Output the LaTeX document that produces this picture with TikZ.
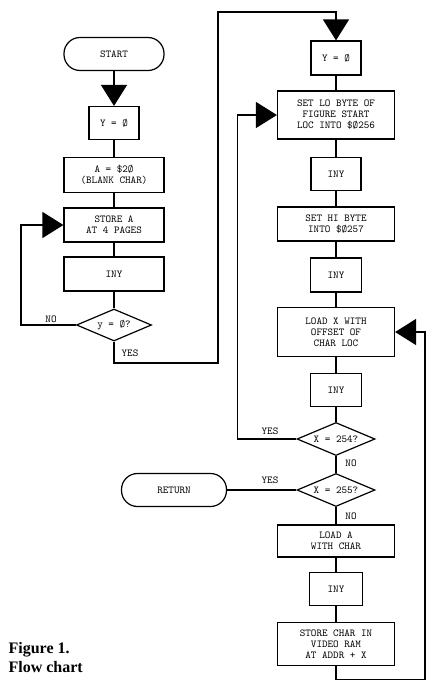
\documentclass[tikz,border=0pt]{standalone}
\usepackage{fontspec}
\setmainfont{Liberation Serif}
\usetikzlibrary{shapes.geometric,arrows.meta}

\begin{document}
\begin{tikzpicture}[x=1pt, y=-1pt, line width=1.2pt,
    every node/.style={font=\fontsize{10.6}{11}\ttfamily, align=center, inner sep=0pt},
    box/.style={draw, rectangle},
    term/.style={draw, rectangle, rounded corners=16pt, minimum height=33pt},
    cond/.style={draw, diamond, aspect=2.4, minimum width=78pt, minimum height=33pt},
    bigtip/.style={-{Triangle[length=21pt,width=26pt]}}]
  \useasboundingbox (0,0) rectangle (434,686);

  % left column
  \node[term, minimum width=100pt] (start) at (114,54) {START};
  \node[box, minimum width=50pt, minimum height=33pt] (y0a) at (114,123) {Y = Ø};
  \node[box, minimum width=100pt, minimum height=35pt] (a20) at (114,175) {A = \$2Ø\\(BLANK CHAR)};
  \node[box, minimum width=100pt, minimum height=34pt] (store) at (114,225) {STORE A\\AT 4 PAGES};
  \node[box, minimum width=100pt, minimum height=34pt] (iny1) at (114,274) {INY};
  \node[cond, minimum width=75pt, minimum height=32pt] (test0) at (114,325) {y = Ø?};

  % right column
  \node[box, minimum width=50pt, minimum height=34pt] (y0b) at (336,58) {Y = Ø};
  \node[box, minimum width=117pt, minimum height=48pt] (setlo) at (336,115) {SET LO BYTE OF\\FIGURE START\\LOC INTO \$Ø256};
  \node[box, minimum width=50pt, minimum height=33pt] (iny2) at (336,174) {INY};
  \node[box, minimum width=117pt, minimum height=34pt] (sethi) at (336,224) {SET HI BYTE\\INTO \$Ø257};
  \node[box, minimum width=51pt, minimum height=34pt] (iny3) at (336,275) {INY};
  \node[box, minimum width=117pt, minimum height=49pt] (loadx) at (336,332) {LOAD X WITH\\OFFSET OF\\CHAR LOC};
  \node[box, minimum width=51pt, minimum height=33pt] (iny4) at (336,390) {INY};
  \node[cond] (test254) at (336,439) {X = 254?};
  \node[cond] (test255) at (336,490) {X = 255?};
  \node[term, minimum width=105pt] (ret) at (174,490) {RETURN};
  \node[box, minimum width=117pt, minimum height=32pt] (loada) at (336,541) {LOAD A\\WITH CHAR};
  \node[box, minimum width=53pt, minimum height=33pt] (iny5) at (336,589) {INY};
  \node[box, minimum width=117pt, minimum height=43pt] (storec) at (336,644) {STORE CHAR IN\\VIDEO RAM\\AT ADDR + X};

  % labels
  \node (no1) at (51,319) {NO};
  \node (yes1) at (130,353) {YES};
  \node (yes2) at (270,431) {YES};
  \node (no2) at (351,463) {NO};
  \node (yes3) at (270,480) {YES};
  \node (no3) at (351,516) {NO};
  \node[font=\fontsize{16}{19}\rmfamily\bfseries, align=left, anchor=west] (cap) at (8,658) {Figure 1.\\Flow chart};

  % connectors
  \draw[bigtip] (start) -- (y0a);
  \draw (y0a) -- (a20);
  \draw (a20) -- (store);
  \draw (store) -- (iny1);
  \draw (iny1) -- (test0);
  \draw[bigtip] (test0.west) -- ++(-55,0) |- (store.west);
  \draw[bigtip] (test0.south) |- (218,363) -- (218,12) -| (y0b.north);
  \draw (y0b) -- (setlo);
  \draw (setlo) -- (iny2);
  \draw (iny2) -- (sethi);
  \draw (sethi) -- (iny3);
  \draw (iny3) -- (loadx);
  \draw (loadx) -- (iny4);
  \draw (iny4) -- (test254);
  \draw[bigtip] (test254.west) -- ++(-59,0) |- (setlo.west);
  \draw (test254) -- (test255);
  \draw (test255) -- (ret);
  \draw (test255) -- (loada);
  \draw (loada) -- (iny5);
  \draw (iny5) -- (storec);
  \draw[bigtip] (storec.south) -- ++(0,13) -- ++(89,0) |- (loadx.east);
\end{tikzpicture}
\end{document}
